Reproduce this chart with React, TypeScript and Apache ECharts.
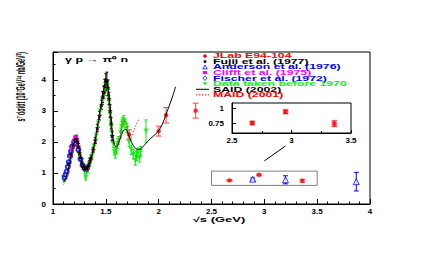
import React, { useEffect, useRef } from "react";
import * as echarts from "echarts";

// ---------- data ----------
const X_TICKS = [1, 1.5, 2, 2.5, 3, 3.5, 4];
const Y_TICKS = [0, 1, 2, 3, 4];
const INSET_X_TICKS = [2.5, 3, 3.5];
const INSET_Y_TICKS = [0.75, 1];

// [sqrt(s), value, error]
const JLAB = [
  [1.72, 2.24, 0.15],
  [2.0, 2.35, 0.16],
  [2.07, 2.86, 0.25],
  [2.35, 3.01, 0.24],
  [2.67, 0.76, 0.02],
  [2.95, 0.94, 0.028],
  [3.36, 0.75, 0.045],
];
const FUJII = [
  [1.15, 1.3, 0.08], [1.17, 1.6, 0.1], [1.19, 1.9, 0.1], [1.21, 2.05, 0.12], [1.22, 2.1, 0.12],
  [1.23, 2.0, 0.1], [1.24, 1.85, 0.1], [1.25, 1.65, 0.08], [1.26, 1.5, 0.08], [1.27, 1.35, 0.07],
  [1.28, 1.25, 0.07], [1.29, 1.2, 0.06], [1.3, 1.15, 0.06], [1.31, 1.12, 0.06], [1.32, 1.15, 0.06],
  [1.33, 1.2, 0.06], [1.34, 1.28, 0.07], [1.35, 1.4, 0.07], [1.36, 1.5, 0.08], [1.38, 1.75, 0.08],
  [1.4, 2.05, 0.1], [1.42, 2.45, 0.12], [1.44, 2.85, 0.14], [1.46, 3.2, 0.15], [1.47, 3.45, 0.18],
  [1.48, 3.6, 0.2], [1.49, 3.8, 0.22], [1.5, 3.95, 0.25], [1.51, 3.95, 0.3], [1.52, 3.75, 0.25],
  [1.53, 3.4, 0.2], [1.54, 3.0, 0.2], [1.55, 2.6, 0.18], [1.56, 2.2, 0.15],
];
const ANDERSON = [
  [2.89, 0.8, 0.04],
  [3.2, 0.78, 0.13],
  [3.87, 0.72, 0.3],
];
const CLIFFT = [
  [1.17, 1.55, 0.05], [1.18, 1.75, 0.06], [1.19, 1.9, 0.06], [1.2, 2.05, 0.07],
  [1.21, 2.15, 0.07], [1.22, 2.15, 0.07], [1.23, 2.05, 0.07], [1.24, 1.85, 0.06],
];
const FISCHER = [
  [1.11, 0.85, 0.04], [1.12, 0.95, 0.04], [1.13, 1.05, 0.05], [1.14, 1.2, 0.05], [1.15, 1.35, 0.05],
  [1.16, 1.55, 0.06], [1.17, 1.7, 0.06], [1.18, 1.85, 0.07], [1.2, 2.0, 0.07], [1.22, 1.95, 0.07],
  [1.24, 1.75, 0.06], [1.26, 1.45, 0.06], [1.28, 1.25, 0.05], [1.3, 1.15, 0.05], [1.32, 1.15, 0.05],
];
const OLD_DATA = [
  [1.1, 0.85, 0.08], [1.11, 0.8, 0.08], [1.12, 0.95, 0.08], [1.14, 1.1, 0.08], [1.15, 1.3, 0.08],
  [1.17, 1.55, 0.1], [1.18, 1.75, 0.1], [1.2, 1.95, 0.1], [1.21, 2.05, 0.1], [1.22, 2.0, 0.1],
  [1.24, 1.75, 0.1], [1.25, 1.6, 0.1], [1.27, 1.4, 0.08], [1.28, 1.2, 0.08], [1.3, 1.05, 0.08],
  [1.31, 0.85, 0.08], [1.32, 1.05, 0.08], [1.33, 1.1, 0.08], [1.35, 1.3, 0.08], [1.37, 1.55, 0.1],
  [1.39, 1.85, 0.1], [1.41, 2.2, 0.12], [1.43, 2.6, 0.12], [1.45, 3.0, 0.15], [1.47, 3.35, 0.15],
  [1.49, 3.7, 0.2], [1.5, 3.85, 0.2], [1.52, 3.65, 0.2], [1.53, 3.3, 0.2], [1.54, 2.9, 0.2],
  [1.55, 2.5, 0.15], [1.56, 2.15, 0.15], [1.57, 1.95, 0.12], [1.58, 1.7, 0.12], [1.59, 1.6, 0.12],
  [1.6, 1.75, 0.12], [1.61, 1.9, 0.12], [1.62, 2.05, 0.12], [1.64, 2.3, 0.15], [1.65, 2.5, 0.15],
  [1.66, 2.65, 0.15], [1.67, 2.7, 0.15], [1.68, 2.6, 0.15], [1.7, 2.45, 0.15], [1.72, 2.0, 0.15],
  [1.74, 1.75, 0.15], [1.76, 1.6, 0.15], [1.78, 1.4, 0.15], [1.79, 1.55, 0.15], [1.8, 1.65, 0.15],
  [1.82, 1.5, 0.15], [1.83, 1.7, 0.15], [1.88, 2.35, 0.36],
];
const SAID_CURVE = [
  [1.1, 0.7], [1.12, 0.85], [1.14, 1.05], [1.16, 1.35], [1.18, 1.7], [1.2, 1.98], [1.215, 2.08],
  [1.23, 2.0], [1.25, 1.7], [1.27, 1.4], [1.29, 1.2], [1.31, 1.12], [1.33, 1.15], [1.35, 1.32],
  [1.37, 1.58], [1.39, 1.9], [1.41, 2.28], [1.43, 2.7], [1.45, 3.12], [1.47, 3.5], [1.49, 3.8],
  [1.505, 3.88], [1.52, 3.72], [1.54, 3.15], [1.56, 2.35], [1.58, 1.92], [1.6, 1.84], [1.62, 1.95],
  [1.645, 2.2], [1.67, 2.38], [1.69, 2.4], [1.71, 2.28], [1.74, 2.02], [1.77, 1.84], [1.8, 1.76],
  [1.83, 1.78], [1.87, 1.92], [1.92, 2.1], [1.97, 2.25], [2.0, 2.36], [2.04, 2.62], [2.08, 2.98],
  [2.12, 3.35], [2.16, 3.78],
];
const MAID_CURVE = [
  [1.1, 0.62], [1.12, 0.78], [1.14, 1.0], [1.16, 1.3], [1.18, 1.65], [1.2, 1.95], [1.215, 2.05],
  [1.23, 1.98], [1.25, 1.68], [1.27, 1.38], [1.29, 1.18], [1.31, 1.08], [1.33, 1.12], [1.35, 1.28],
  [1.37, 1.52], [1.39, 1.85], [1.41, 2.22], [1.43, 2.62], [1.45, 3.05], [1.47, 3.45], [1.49, 3.75],
  [1.505, 3.82], [1.52, 3.65], [1.54, 3.05], [1.56, 2.3], [1.58, 1.95], [1.6, 1.92], [1.62, 2.05],
  [1.64, 2.3], [1.66, 2.55], [1.68, 2.7], [1.7, 2.55], [1.72, 2.2], [1.74, 2.15], [1.76, 2.3],
  [1.78, 2.5], [1.81, 2.72],
];
// zoom box in data units: [xMin, xMax, yMin, yMax]
const ZOOM_BOX = [2.5, 3.5, 0.6, 1.06];
const ARROW = [[3.0, 1.39], [3.2, 1.87]];

const LEGEND = [
  { label: "JLab E94-104", color: "#ff0000", icon: "circle" },
  { label: "Fujii et al. (1977)", color: "#000000", icon: "star" },
  { label: "Anderson et al. (1976)", color: "#0000ff", icon: "triangleOpen" },
  { label: "Clifft et al. (1975)", color: "#ff00ff", icon: "square" },
  { label: "Fischer et al. (1972)", color: "#0000ff", icon: "circleOpen" },
  { label: "Data taken before 1970", color: "#00ff00", icon: "triangleDown" },
  { label: "SAID (2002)", color: "#000000", icon: "line" },
  { label: "MAID (2001)", color: "#ff0000", icon: "dotted" },
];

const FONT = '"Liberation Sans", Arial, Helvetica, sans-serif';
const STAR =
  "path://M0,-10L2.9,-4L9.5,-3.1L4.7,1.5L5.9,8.1L0,5L-5.9,8.1L-4.7,1.5L-9.5,-3.1L-2.9,-4Z";

function errSeries(data: number[][], color: string, cap: number, axis: number, sys = false) {
  return {
    type: "custom",
    xAxisIndex: axis,
    yAxisIndex: axis,
    data,
    silent: true,
    clip: true,
    z: 2,
    encode: { x: 0, y: 1 },
    renderItem: (_p: any, api: any) => {
      const x = api.value(0);
      const y = api.value(1);
      const e = api.value(2);
      const lo = api.coord([x, y - e]);
      const hi = api.coord([x, y + e]);
      const c = api.coord([x, y]);
      const st = { stroke: color, lineWidth: 1 };
      const children: any[] = [];
      if (sys) {
        children.push({
          type: "rect",
          shape: { x: c[0] - 3, y: c[1] - 3, width: 6, height: 6 },
          style: { fill: "#f9b0b0" },
        });
      }
      children.push({ type: "line", shape: { x1: lo[0], y1: lo[1], x2: hi[0], y2: hi[1] }, style: st });
      if (cap > 0) {
        children.push({ type: "line", shape: { x1: lo[0] - cap, y1: lo[1], x2: lo[0] + cap, y2: lo[1] }, style: st });
        children.push({ type: "line", shape: { x1: hi[0] - cap, y1: hi[1], x2: hi[0] + cap, y2: hi[1] }, style: st });
      }
      return { type: "group", children };
    },
  };
}

function scatter(name: string, data: number[][], symbol: string, size: number, itemStyle: any, axis = 0, extra: any = {}) {
  return {
    type: "scatter",
    name,
    xAxisIndex: axis,
    yAxisIndex: axis,
    data: data.map((d) => [d[0], d[1]]),
    symbol,
    symbolSize: size,
    itemStyle,
    silent: true,
    z: 3,
    ...extra,
  };
}

function legendGraphic() {
  const els: any[] = [];
  const x0 = 205;
  const tx = 213;
  LEGEND.forEach((it, i) => {
    const y = 56 + i * 5.55;
    let icon: any;
    switch (it.icon) {
      case "circle":
        icon = { type: "circle", shape: { cx: x0, cy: y, r: 1.8 }, style: { fill: it.color } };
        break;
      case "star":
        icon = {
          type: "polygon",
          shape: {
            points: [[0, -2.2], [0.6, -0.8], [2.1, -0.7], [1, 0.3], [1.3, 1.8], [0, 1.1], [-1.3, 1.8], [-1, 0.3], [-2.1, -0.7], [-0.6, -0.8]].map((p) => [x0 + p[0], y + p[1]]),
          },
          style: { fill: it.color },
        };
        break;
      case "triangleOpen":
        icon = { type: "polygon", shape: { points: [[x0, y - 2], [x0 + 2.2, y + 1.8], [x0 - 2.2, y + 1.8]] }, style: { fill: "none", stroke: it.color, lineWidth: 0.8 } };
        break;
      case "square":
        icon = { type: "rect", shape: { x: x0 - 2.2, y: y - 1.6, width: 4.4, height: 3.2 }, style: { fill: it.color } };
        break;
      case "circleOpen":
        icon = { type: "circle", shape: { cx: x0, cy: y, r: 1.8 }, style: { fill: "none", stroke: it.color, lineWidth: 0.8 } };
        break;
      case "triangleDown":
        icon = { type: "polygon", shape: { points: [[x0 - 2.2, y - 1.6], [x0 + 2.2, y - 1.6], [x0, y + 1.8]] }, style: { fill: it.color } };
        break;
      case "line":
        icon = { type: "line", shape: { x1: 196, y1: y, x2: 209, y2: y }, style: { stroke: it.color, lineWidth: 1 } };
        break;
      default:
        icon = { type: "line", shape: { x1: 196, y1: y, x2: 209, y2: y }, style: { stroke: it.color, lineWidth: 1, lineDash: [1.5, 1.5] } };
    }
    els.push(icon);
    els.push({
      type: "text",
      x: tx,
      y,
      scaleY: 0.55,
      style: {
        text: it.label,
        fill: it.color,
        fontSize: 12.3,
        fontWeight: "bold",
        fontFamily: FONT,
        verticalAlign: "middle",
        align: "left",
      },
    });
  });
  return els;
}

export default function App() {
  const ref = useRef<HTMLDivElement>(null);
  useEffect(() => {
    if (!ref.current) return;
    const chart = echarts.init(ref.current, null, { renderer: "svg" });
    const labelStyle = { color: "#000", fontSize: 8, fontWeight: "bold", fontFamily: FONT };
    const option: any = {
      animation: false,
      backgroundColor: "#fff",
      grid: [
        { left: 53, top: 52, width: 317, height: 152, show: true, borderColor: "#000", borderWidth: 1, backgroundColor: "transparent" },
        { left: 232, top: 103, width: 119, height: 30, show: true, borderColor: "#000", borderWidth: 1, backgroundColor: "#fff" },
      ],
      xAxis: [
        {
          type: "value", gridIndex: 0, min: X_TICKS[0], max: X_TICKS[X_TICKS.length - 1], interval: 0.5,
          axisLine: { lineStyle: { color: "#000" } },
          axisTick: { inside: true, length: 5, lineStyle: { color: "#000" } },
          minorTick: { show: true, splitNumber: 5, length: 2.5, lineStyle: { color: "#000" } },
          splitLine: { show: false },
          axisLabel: { ...labelStyle, margin: 3, showMaxLabel: true, formatter: (v: number) => String(v) },
        },
        {
          type: "value", gridIndex: 1, min: INSET_X_TICKS[0], max: INSET_X_TICKS[INSET_X_TICKS.length - 1], interval: 0.5,
          axisLine: { lineStyle: { color: "#000" } },
          axisTick: { inside: true, length: 3, lineStyle: { color: "#000" } },
          minorTick: { show: true, splitNumber: 2, length: 2, lineStyle: { color: "#000" } },
          splitLine: { show: false },
          axisLabel: { ...labelStyle, margin: 3, formatter: (v: number) => String(v) },
        },
      ],
      yAxis: [
        {
          type: "value", gridIndex: 0, min: Y_TICKS[0], max: 4.9, interval: 1,
          axisLine: { lineStyle: { color: "#000" } },
          axisTick: { inside: true, length: 5, lineStyle: { color: "#000" } },
          minorTick: { show: true, splitNumber: 2, length: 2.5, lineStyle: { color: "#000" } },
          splitLine: { show: false },
          axisLabel: { ...labelStyle, margin: 7, showMaxLabel: false, formatter: (v: number) => (Y_TICKS.includes(v) ? String(v) : "") },
        },
        {
          type: "value", gridIndex: 1, min: 0.6, max: 1.08,
          axisLine: { lineStyle: { color: "#000" } },
          axisTick: { inside: true, length: 4, customValues: INSET_Y_TICKS, lineStyle: { color: "#000" } },
          splitLine: { show: false },
          axisLabel: { ...labelStyle, margin: 8, customValues: INSET_Y_TICKS, formatter: (v: number) => String(v) },
        },
      ],
      series: [
        { type: "line", data: MAID_CURVE, smooth: 0.4, showSymbol: false, symbol: "none", silent: true, lineStyle: { color: "#ff3030", width: 1, type: [1.5, 1.5] }, z: 4 },
        errSeries(OLD_DATA, "#00ee00", 1.5, 0),
        errSeries(FISCHER, "#0000ff", 0, 0),
        errSeries(CLIFFT, "#ff00ff", 0, 0),
        errSeries(FUJII, "#000000", 1.5, 0),
        errSeries(ANDERSON, "#0000ff", 2.5, 0),
        errSeries(JLAB, "#ff4040", 3, 0),
        errSeries(JLAB.filter((d) => d[0] >= 2.5 && d[0] <= 3.5), "#ff2020", 2.5, 1, true),
        scatter("Data taken before 1970", OLD_DATA, "triangle", 5, { color: "#00ee00" }, 0, { symbolRotate: 180 }),
        scatter("Fischer et al. (1972)", FISCHER, "emptyCircle", 4, { color: "#0000ff", borderWidth: 0.8 }),
        scatter("Clifft et al. (1975)", CLIFFT, "rect", 4, { color: "#ff00ff" }),
        scatter("Fujii et al. (1977)", FUJII, STAR, 5, { color: "#000000" }),
        scatter("Anderson et al. (1976)", ANDERSON, "triangle", 6, { color: "#ffffff", borderColor: "#0000ff", borderWidth: 1 }, 0, {
          markArea: {
            silent: true,
            itemStyle: { color: "rgba(0,0,0,0)", borderColor: "#808080", borderWidth: 1 },
            data: [[{ coord: [ZOOM_BOX[0], ZOOM_BOX[2]] }, { coord: [ZOOM_BOX[1], ZOOM_BOX[3]] }]],
          },
          markLine: {
            silent: true,
            symbol: ["none", "arrow"],
            symbolSize: [0, 7],
            label: { show: false },
            lineStyle: { color: "#000", width: 1, type: "solid" },
            data: [[{ coord: ARROW[0] }, { coord: ARROW[1] }]],
          },
        }),
        scatter("JLab E94-104", JLAB, "circle", 4.5, { color: "#ff0000" }),
        scatter("JLab E94-104 inset", JLAB.filter((d) => d[0] >= 2.5 && d[0] <= 3.5), "circle", 4.5, { color: "#ff0000" }, 1),
        { type: "line", data: SAID_CURVE, smooth: 0.4, showSymbol: false, symbol: "none", silent: true, lineStyle: { color: "#000", width: 1 }, z: 5 },
      ],
      graphic: [
        ...legendGraphic(),
        {
          type: "text", x: 65, y: 60, scaleY: 0.55,
          style: { text: "γ p → π⁰ n", fill: "#000", fontSize: 12.5, fontWeight: "bold", fontFamily: FONT, verticalAlign: "middle", align: "left" },
        },
        {
          type: "text", x: 219, y: 219.5, scaleY: 0.55,
          style: { text: "√s (GeV)", fill: "#000", fontSize: 13, fontWeight: "bold", fontFamily: FONT, verticalAlign: "middle", align: "center" },
        },
        {
          type: "text", x: 21, y: 52, rotation: Math.PI / 2, scaleX: 0.44,
          style: { text: "s⁷ dσ/dt (10⁷GeV¹⁴ nb/GeV²)", fill: "#000", fontSize: 12, fontWeight: "bold", fontFamily: FONT, verticalAlign: "middle", align: "right" },
        },
      ],
    };
    chart.setOption(option);
    return () => chart.dispose();
  }, []);
  return <div ref={ref} style={{ position: "fixed", left: 0, top: 0, width: 436, height: 273 }} />;
}
